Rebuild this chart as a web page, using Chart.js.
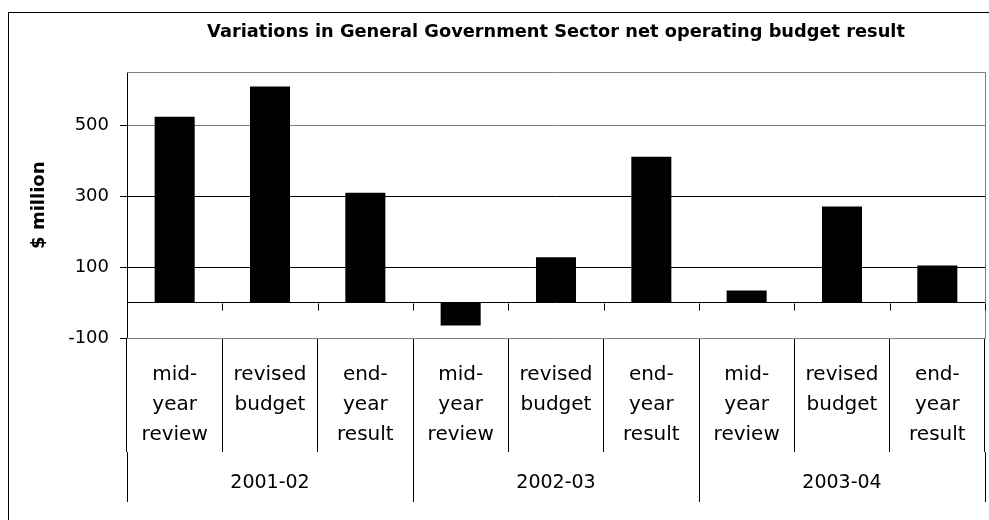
<!DOCTYPE html>
<html>
<head>
<meta charset="utf-8">
<title>Variations in General Government Sector net operating budget result</title>
<script src="https://cdn.jsdelivr.net/npm/chart.js@4/dist/chart.umd.min.js"></script>
<style>
  html, body { margin: 0; padding: 0; background: #ffffff; }
  canvas { display: block; }
</style>
</head>
<body>
<canvas id="chart" width="989" height="520"></canvas>
<script>
// Budget result variations, $ million
const categories = [
  ['mid-', 'year', 'review'], ['revised', 'budget'], ['end-', 'year', 'result'],
  ['mid-', 'year', 'review'], ['revised', 'budget'], ['end-', 'year', 'result'],
  ['mid-', 'year', 'review'], ['revised', 'budget'], ['end-', 'year', 'result']
];
const years = ['2001-02', '2002-03', '2003-04'];
const values = [525, 610, 310, -65, 128, 412, 34, 271, 105];
const yTicks = [-100, 0, 100, 300, 500];

const FONT = 'DejaVu Sans';

// White page, outer frame, top/right plot border and the small tick marks on the zero line
const framePlugin = {
  id: 'frame',
  beforeDraw(chart) {
    const ctx = chart.ctx;
    ctx.save();
    ctx.fillStyle = '#ffffff';
    ctx.fillRect(0, 0, chart.width, chart.height);
    ctx.restore();
  },
  afterDraw(chart) {
    const ctx = chart.ctx;
    const a = chart.chartArea;
    const x = chart.scales.x;
    const y = chart.scales.y;
    ctx.save();
    ctx.lineWidth = 1;
    ctx.strokeStyle = '#000000';
    ctx.strokeRect(8.5, 12.5, 990, 520);

    ctx.strokeStyle = '#808080';
    ctx.beginPath();
    ctx.moveTo(a.left, Math.round(a.top) + 0.5);
    ctx.lineTo(a.right + 0.5, Math.round(a.top) + 0.5);
    ctx.lineTo(a.right + 0.5, a.bottom);
    ctx.stroke();

    const y0 = Math.round(y.getPixelForValue(0)) + 0.5;
    ctx.strokeStyle = '#000000';
    ctx.beginPath();
    for (let i = 0; i <= categories.length; i++) {
      const px = Math.round(x.getPixelForValue(i - 0.5)) + 0.5;
      ctx.moveTo(px, y0);
      ctx.lineTo(px, y0 + 7);
    }
    ctx.stroke();
    ctx.restore();
  }
};

new Chart(document.getElementById('chart'), {
  type: 'bar',
  data: {
    labels: categories,
    datasets: [{
      data: values,
      backgroundColor: '#000000',
      borderWidth: 0,
      barPercentage: 0.42,
      categoryPercentage: 1
    }]
  },
  options: {
    responsive: false,
    animation: false,
    devicePixelRatio: 1,
    layout: { padding: { left: 0, right: 4, top: 0, bottom: 0 } },
    plugins: {
      legend: { display: false },
      tooltip: { enabled: false },
      title: {
        display: true,
        fullSize: false,
        text: 'Variations in General Government Sector net operating budget result',
        color: '#000000',
        font: { family: FONT, size: 17.8, weight: 'bold', lineHeight: 1.2 },
        padding: { top: 22, bottom: 29 }
      }
    },
    scales: {
      y: {
        min: -100,
        max: 650,
        afterBuildTicks(scale) {
          scale.ticks = yTicks.map(v => ({ value: v }));
        },
        afterFit(scale) { scale.width = 127; },
        ticks: {
          color: '#000000',
          font: { family: FONT, size: 18 },
          padding: 11,
          callback: v => (v === 0 ? '' : String(v))
        },
        grid: {
          color: ctx => (ctx.tick && (ctx.tick.value === 500 || ctx.tick.value === -100) ? '#808080' : '#000000'),
          tickColor: ctx => (ctx.tick && ctx.tick.value === 0 ? 'rgba(0,0,0,0)' : '#000000'),
          tickLength: 7,
          lineWidth: 1
        },
        border: { display: true, color: '#000000', width: 1 },
        title: {
          display: true,
          text: '$ million',
          color: '#000000',
          font: { family: FONT, size: 18, weight: 'bold', lineHeight: 1.2 },
          padding: { top: 29, bottom: 0 }
        }
      },
      x: {
        offset: true,
        afterFit(scale) { scale.height = 114; },
        ticks: {
          autoSkip: false,
          maxRotation: 0,
          minRotation: 0,
          color: '#000000',
          font: { family: FONT, size: 20, lineHeight: '30px' },
          padding: -92
        },
        grid: {
          offset: true,
          drawOnChartArea: false,
          drawTicks: true,
          tickLength: 114,
          tickColor: '#000000'
        },
        border: { display: true, color: '#808080', width: 1 }
      },
      x2: {
        type: 'category',
        position: 'bottom',
        labels: years,
        offset: true,
        afterFit(scale) { scale.height = 68; },
        ticks: {
          autoSkip: false,
          maxRotation: 0,
          color: '#000000',
          font: { family: FONT, size: 19, lineHeight: 1.2 },
          padding: -30
        },
        grid: {
          offset: true,
          drawOnChartArea: false,
          drawTicks: true,
          tickLength: 50,
          tickColor: '#000000'
        },
        border: { display: false }
      }
    }
  },
  plugins: [framePlugin]
});
</script>
</body>
</html>
